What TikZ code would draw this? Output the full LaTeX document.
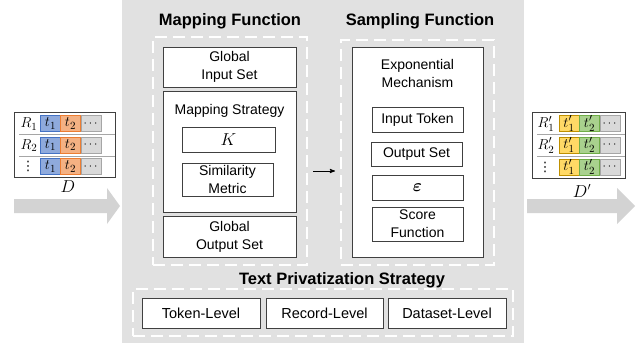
\documentclass[tikz,border=0pt]{standalone}
\usepackage{amsmath}
\usepackage{fontspec}
\setmainfont{Liberation Sans}
\newfontfamily\symfont{DejaVu Sans}
\usetikzlibrary{arrows}
\definecolor{panelgray}{HTML}{E1E1E1}
\definecolor{arrowgray}{HTML}{D3D3D3}
\definecolor{boxline}{HTML}{404040}
\definecolor{cellblue}{HTML}{8FAADC}
\definecolor{cellblueline}{HTML}{4472C4}
\definecolor{cellorange}{HTML}{F4B183}
\definecolor{cellorangeline}{HTML}{ED7D31}
\definecolor{cellgray}{HTML}{D9D9D9}
\definecolor{cellgrayline}{HTML}{A6A6A6}
\definecolor{cellyellow}{HTML}{FFD966}
\definecolor{cellyellowline}{HTML}{BF9000}
\definecolor{cellgreen}{HTML}{A9D18E}
\definecolor{cellgreenline}{HTML}{70AD47}
\tikzset{
	box_plain/.style = {
		draw=boxline,
		fill=white,
		line width=0.9pt,
		inner sep=0pt,
		align=center,
		font=\fontsize{14}{18}\selectfont
	},
	box_math/.style = {
		box_plain,
		font=\fontsize{16}{18}\selectfont
	},
	box_level/.style = {
		box_plain,
		minimum width=118,
		minimum height=30,
		font=\fontsize{14.5}{17}\selectfont
	},
	box_title/.style = {
		inner sep=0pt,
		font=\fontsize{16.5}{19}\selectfont\bfseries
	},
	text_plain/.style = {
		inner sep=0pt,
		align=center,
		font=\fontsize{14}{18}\selectfont
	},
	frame_dash/.style = {
		draw=white,
		line width=1.6pt,
		dash pattern=on 12pt off 6pt,
		inner sep=0pt
	},
	table_box/.style = {
		draw=boxline,
		fill=white,
		line width=0.9pt,
		inner sep=0pt
	},
	cell/.style = {
		line width=0.8pt,
		minimum width=20,
		minimum height=16,
		inner sep=0pt,
		font=\fontsize{15}{15}\selectfont
	},
	cell_blue/.style = {cell, draw=cellblueline, fill=cellblue},
	cell_orange/.style = {cell, draw=cellorangeline, fill=cellorange},
	cell_gray/.style = {cell, draw=cellgrayline, fill=cellgray, font=\fontsize{12}{12}\selectfont},
	cell_yellow/.style = {cell, draw=cellyellowline, fill=cellyellow},
	cell_green/.style = {cell, draw=cellgreenline, fill=cellgreen},
	row_label/.style = {inner sep=0pt, font=\fontsize{15}{15}\selectfont},
	row_dots/.style = {inner sep=0pt, font=\fontsize{13}{13}\symfont},
	sep_line/.style = {draw=cellgrayline, line width=0.8pt},
}
\begin{document}
\begin{tikzpicture}[x=1pt, y=-1pt, >=stealth']
\useasboundingbox (0,0) rectangle (644,348);
% centre panel
\fill[panelgray] (122,0) rectangle (524,343);

% input data
\fill[arrowgray] (14,199) -- (107,199) -- (107,188) -- (120,206) -- (107,224) -- (107,213) -- (14,213) -- cycle;
\node[table_box, minimum width=101, minimum height=65] (tab_in) at (64.5,144.5) {};
\draw[sep_line] (19,134) -- (115,134);
\draw[sep_line] (19,156) -- (115,156);
\node[row_label] (in_r1) at (29,124) {$R_1$};
\node[row_label] (in_r2) at (29,145.5) {$R_2$};
\node[row_dots] (in_r3) at (28,166.5) {⋮};
\foreach \r/\y in {1/123.5, 2/145, 3/166.5} {
	\node[cell_blue] (in_a\r) at (50.5,\y) {$t_1$};
	\node[cell_orange] (in_b\r) at (70.5,\y) {$t_2$};
	\node[cell_gray] (in_c\r) at (91.5,\y) {$\cdots$};
}
\node[row_label, font=\fontsize{16}{16}\selectfont] (lab_d) at (68,187) {$D$};

% output data
\fill[arrowgray] (527,199) -- (617,199) -- (617,188) -- (635,206) -- (617,224) -- (617,213) -- (527,213) -- cycle;
\node[table_box, minimum width=93, minimum height=66] (tab_out) at (578.5,145) {};
\draw[sep_line] (537,134) -- (625,134);
\draw[sep_line] (537,156) -- (625,156);
\node[row_label] (out_r1) at (546,124) {$R'_1$};
\node[row_label] (out_r2) at (546,145.5) {$R'_2$};
\node[row_dots] (out_r3) at (545,167) {⋮};
\foreach \r/\y in {1/123.5, 2/145, 3/167} {
	\node[cell_yellow] (out_a\r) at (569,\y) {$t'_1$};
	\node[cell_green] (out_b\r) at (589.5,\y) {$t'_2$};
	\node[cell_gray] (out_c\r) at (610.5,\y) {$\cdots$};
}
\node[row_label, font=\fontsize{16}{16}\selectfont] (lab_dp) at (582,191) {$D'$};

% mapping function
\node[box_title] (map_title) at (230,21) {Mapping Function};
\node[frame_dash, minimum width=154, minimum height=228] (map_frame) at (230,151) {};
\node[box_plain, minimum width=133, minimum height=40] (glob_in) at (229.5,67) {Global\\Input Set};
\node[box_plain, minimum width=133, minimum height=121] (map_strat) at (229.5,151.5) {};
\node[text_plain] (map_strat_lab) at (229.5,111) {Mapping Strategy};
\node[box_math, minimum width=93, minimum height=25] (par_k) at (228.5,139.5) {$K$};
\node[box_plain, minimum width=91, minimum height=33] (sim_met) at (227.5,179.5) {Similarity\\Metric};
\node[box_plain, minimum width=133, minimum height=41] (glob_out) at (229.5,236.5) {Global\\Output Set};

% sampling function
\node[box_title] (samp_title) at (420,21) {Sampling Function};
\node[frame_dash, minimum width=153, minimum height=225] (samp_frame) at (417.5,152.5) {};
\node[box_plain, minimum width=131, minimum height=210] (exp_mech) at (417.5,152) {};
\node[text_plain] (exp_mech_lab) at (417.5,73) {Exponential\\Mechanism};
\node[box_plain, minimum width=91, minimum height=25] (in_tok) at (417.5,119.5) {Input Token};
\node[box_plain, minimum width=91, minimum height=24] (out_set) at (416.5,154) {Output Set};
\node[box_math, minimum width=91, minimum height=25] (par_eps) at (417.5,187.5) {$\boldsymbol{\varepsilon}$};
\node[box_plain, minimum width=91, minimum height=34] (score_fn) at (417.5,224) {Score\\Function};

\coordinate (arr_s) at (313,171);
\coordinate (arr_e) at (335,171);
\draw[->, line width=0.9pt] (arr_s) -- (arr_e);

% privatization strategy
\node[box_title] (priv_title) at (342,280) {Text Privatization Strategy};
\node[frame_dash, minimum width=380, minimum height=47] (priv_frame) at (323,312.5) {};
\node[box_level] (lvl_tok) at (201,313) {Token-Level};
\node[box_level, minimum width=117] (lvl_rec) at (324.5,313) {Record-Level};
\node[box_level] (lvl_data) at (447,313) {Dataset-Level};
\end{tikzpicture}
\end{document}
